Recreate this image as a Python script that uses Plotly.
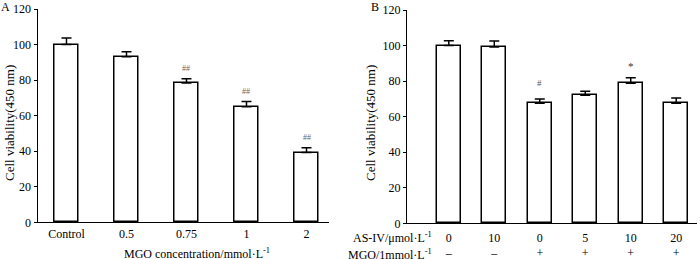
import plotly.graph_objects as go

W, H = 700, 259

# Panel A data
a_categories = ["Control", "0.5", "0.75", "1", "2"]
a_values = [100, 93.2, 78.4, 65.0, 39.2]
a_errors = [3.7, 2.8, 2.4, 2.9, 2.8]
a_marks = ["", "", "##", "##", "##"]

# Panel B data
b_categories = ["b0", "b1", "b2", "b3", "b4", "b5"]
b_asiv_labels = ["0", "10", "0", "5", "10", "20"]
b_mgo_labels = ["–", "–", "+", "+", "+", "+"]
b_values = [100, 99.2, 67.5, 72.0, 78.8, 67.5]
b_errors = [2.7, 3.3, 2.4, 2.3, 3.1, 3.0]
b_marks = ["", "", "#", "", "*", ""]

y_ticks = [0, 20, 40, 60, 80, 100, 120]

FONT = "Liberation Serif"

def px(x):
    return x / W

def py(y):
    return (H - y) / H

fig = go.Figure()

bar_style = dict(marker=dict(color="white", line=dict(color="black", width=1.5)),
                 showlegend=False, hoverinfo="skip")
err_style = dict(type="data", symmetric=False, color="black", thickness=1.5, width=5)

fig.add_trace(go.Bar(x=a_categories, y=a_values, width=0.41,
                     error_y=dict(array=a_errors, arrayminus=[0] * len(a_errors), **err_style),
                     xaxis="x", yaxis="y", **bar_style))
fig.add_trace(go.Bar(x=b_categories, y=b_values, width=0.53,
                     error_y=dict(array=b_errors, arrayminus=[0] * len(b_errors), **err_style),
                     xaxis="x2", yaxis="y2", **bar_style))

axis_common = dict(showline=True, linecolor="black", linewidth=1, showgrid=False,
                   zeroline=False, automargin=False,
                   tickfont=dict(family=FONT, size=12, color="black"))

fig.update_layout(
    width=W, height=H,
    margin=dict(l=0, r=0, t=0, b=0, autoexpand=False),
    paper_bgcolor="white", plot_bgcolor="white",
    font=dict(family=FONT, size=12, color="black"),
    bargap=0,
    xaxis=dict(domain=[px(37.5), px(329)], range=[-0.483, 4.375], anchor="y",
               type="category", ticks="", **axis_common),
    yaxis=dict(domain=[py(222.3), py(9)], range=[0, 120], anchor="x",
               tickvals=y_ticks, ticks="outside", ticklen=3, tickcolor="black",
               **axis_common),
    xaxis2=dict(domain=[px(407), px(697)], range=[-0.919, 5.457], anchor="y2",
                type="category", ticks="", ticklabelstandoff=3,
                tickvals=b_categories,
                ticktext=[f"{a}<br>{m}" for a, m in zip(b_asiv_labels, b_mgo_labels)],
                **axis_common),
    yaxis2=dict(domain=[py(223.3), py(10)], range=[0, 120], anchor="x2",
                tickvals=y_ticks, ticks="outside", ticklen=3, tickcolor="black",
                **axis_common),
)

ann = []
# significance marks (x given as category index)
for i, (v, e, m) in enumerate(zip(a_values, a_errors, a_marks)):
    if m:
        ann.append(dict(x=i, y=v + e, xref="x", yref="y", text=m, showarrow=False,
                        xanchor="center", yanchor="middle", yshift=10,
                        font=dict(size=8, color="#666")))
for i, (v, e, m) in enumerate(zip(b_values, b_errors, b_marks)):
    if m:
        shift = 16 if m == "#" else 12
        ann.append(dict(x=i, y=v + e, xref="x2", yref="y2", text=m, showarrow=False,
                        xanchor="center", yanchor="middle", yshift=shift,
                        font=dict(size=9 if m == "#" else 11,
                                  color="#555" if m == "#" else "#333")))

C = dict(xref="paper", yref="paper", showarrow=False, xanchor="center", yanchor="middle")
# axis titles and labels
ann += [
    dict(x=px(9), y=py(123), text="Cell viability(450 nm)", textangle=-90,
         font=dict(size=13), **C),
    dict(x=px(370), y=py(123), text="Cell viability(450 nm)", textangle=-90,
         font=dict(size=13), **C),
    dict(x=px(196.7), y=py(253), text="MGO concentration/mmol·L<sup>-1</sup>",
         font=dict(size=12), **C),
    dict(x=px(434), y=py(238), text="AS-IV/μmol·L<sup>-1</sup>",
         font=dict(size=12), **{**C, "xanchor": "right"}),
    dict(x=px(434), y=py(254), text="MGO/1mmol·L<sup>-1</sup>",
         font=dict(size=12), **{**C, "xanchor": "right"}),
    dict(x=px(5), y=py(7), text="A", font=dict(size=12), **C),
    dict(x=px(375), y=py(7), text="B", font=dict(size=12), **C),
]
fig.update_layout(annotations=ann)

fig.write_html("out.html", config={"displayModeBar": False},
               post_script="document.body.style.margin='0';")
